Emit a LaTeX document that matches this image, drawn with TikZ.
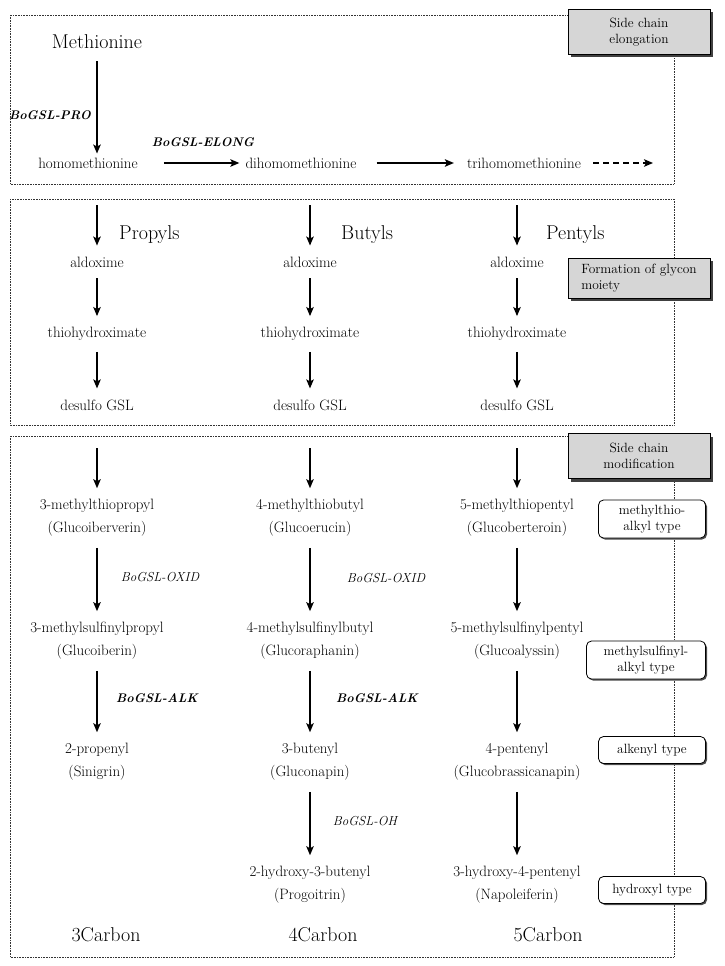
\documentclass[tikz,border=0pt]{standalone}
\usetikzlibrary{arrows.meta,shadows}

\begin{document}
\begin{tikzpicture}[x=1pt,y=-1pt,inner sep=0pt,
  every node/.style={font=\fontsize{15}{23}\selectfont},
  cpd/.style={align=center},
  big/.style={font=\fontsize{20}{22}\selectfont},
  gene/.style={font=\fontsize{13}{15}\selectfont\itshape},
  bgene/.style={font=\fontsize{12.5}{15}\selectfont\bfseries\itshape},
  stage/.style={draw,line width=0.9pt,fill=black!16,inner sep=3pt,minimum width=142pt,minimum height=45pt,align=center,font=\fontsize{13.4}{16}\selectfont,drop shadow={shadow xshift=3pt,shadow yshift=-3pt,fill=black!75,opacity=1}},
  kind/.style={draw,line width=0.8pt,rounded corners=5pt,fill=white,inner sep=3pt,minimum width=107pt,minimum height=38pt,align=center,font=\fontsize{13.4}{16}\selectfont,drop shadow={shadow xshift=1.5pt,shadow yshift=-1.5pt,fill=black!70,opacity=1}},
  panel/.style={densely dotted,line width=0.6pt,black!80},
  go/.style={-{Stealth[length=9pt,width=7.5pt,inset=2pt]},line width=1.5pt,shorten <=11pt,shorten >=11pt}]
\useasboundingbox (0,0) rectangle (724,966);
\draw[panel] (10,15) rectangle (674,184);
\draw[panel] (10,199) rectangle (674,425);
\draw[panel] (10,436) rectangle (674,957);
\node[stage] (elong) at (639,32) {Side chain\\elongation};
\node[stage,align=left,minimum height=40pt] (glyc) at (639,278) {Formation of glycon\\moiety};
\node[stage] (modif) at (639,456) {Side chain\\modification};
\node[kind] (kthio) at (652,519) {methylthio-\\alkyl type};
\node[kind,minimum width=119pt] (ksulf) at (646,660) {methylsulfinyl-\\alkyl type};
\node[kind,minimum height=27pt] (kalk) at (652,750) {alkenyl type};
\node[kind,minimum height=27pt] (koh) at (652,890) {hydroxyl type};

\node[big] (meth) at (97,42) {Methionine};
\node (hm) at (88,163) {homomethionine};
\node (dhm) at (301,163) {dihomomethionine};
\node (thm) at (524,163) {trihomomethionine};
\coordinate (more) at (653,163);
\node[bgene] (pro) at (50,115) {BoGSL-PRO};
\node[bgene] (elg) at (203,142) {BoGSL-ELONG};
\draw[go,shorten <=12pt,shorten >=4pt] (meth) -- (meth |- hm.north);
\draw[go,shorten <=26pt,shorten >=6pt] (hm) -- (dhm);
\draw[go,shorten <=20pt,shorten >=13pt] (dhm) -- (thm);
\draw[go,dash pattern=on 6pt off 4pt,shorten <=12pt,shorten >=0pt] (thm) -- (more);

\coordinate (ta) at (97,205); \coordinate (tb) at (310,205); \coordinate (tc) at (517,205);
\node[big,anchor=west] (prop) at (119,235) {Propyls};
\node[big,anchor=west] (buty) at (341,235) {Butyls};
\node[big,anchor=west] (pent) at (546,235) {Pentyls};
\node (alda) at (97,262) {aldoxime};
\node (aldb) at (310,262) {aldoxime};
\node (aldc) at (517,262) {aldoxime};
\node (thia) at (97,334) {thiohydroximate};
\node (thib) at (310,334) {thiohydroximate};
\node (thic) at (517,334) {thiohydroximate};
\node (desa) at (97,405) {desulfo GSL};
\node (desb) at (310,405) {desulfo GSL};
\node (desc) at (517,405) {desulfo GSL};
\draw[go,shorten <=0pt] (ta) -- (alda); \draw[go] (alda) -- (thia); \draw[go] (thia) -- (desa);
\draw[go,shorten <=0pt] (tb) -- (aldb); \draw[go] (aldb) -- (thib); \draw[go] (thib) -- (desb);
\draw[go,shorten <=0pt] (tc) -- (aldc); \draw[go] (aldc) -- (thic); \draw[go] (thic) -- (desc);

\coordinate (ua) at (97,448); \coordinate (ub) at (310,448); \coordinate (uc) at (517,448);
\node[cpd] (mtpr) at (97,518) {3-methylthiopropyl\\(Glucoiberverin)};
\node[cpd] (mtbu) at (310,518) {4-methylthiobutyl\\(Glucoerucin)};
\node[cpd] (mtpe) at (517,518) {5-methylthiopentyl\\(Glucoberteroin)};
\node[cpd] (mspr) at (97,641) {3-methylsulfinylpropyl\\(Glucoiberin)};
\node[cpd] (msbu) at (310,641) {4-methylsulfinylbutyl\\(Glucoraphanin)};
\node[cpd] (mspe) at (517,641) {5-methylsulfinylpentyl\\(Glucoalyssin)};
\node[cpd] (prop2) at (97,762) {2-propenyl\\(Sinigrin)};
\node[cpd] (but3) at (310,762) {3-butenyl\\(Gluconapin)};
\node[cpd] (pent4) at (517,762) {4-pentenyl\\(Glucobrassicanapin)};
\node[cpd] (hbut) at (310,885) {2-hydroxy-3-butenyl\\(Progoitrin)};
\node[cpd] (hpent) at (517,885) {3-hydroxy-4-pentenyl\\(Napoleiferin)};
\node[gene] (oxa) at (160,577) {BoGSL-OXID};
\node[gene] (oxb) at (386,578) {BoGSL-OXID};
\node[bgene] (alka) at (157,698) {BoGSL-ALK};
\node[bgene] (alkb) at (377,698) {BoGSL-ALK};
\node[gene] (ohb) at (365,821) {BoGSL-OH};
\node[big] (c3) at (106,935) {3Carbon};
\node[big] (c4) at (323,935) {4Carbon};
\node[big] (c5) at (548,935) {5Carbon};
\draw[go,shorten <=0pt] (ua) -- (mtpr); \draw[go] (mtpr) -- (mspr); \draw[go] (mspr) -- (prop2);
\draw[go,shorten <=0pt] (ub) -- (mtbu); \draw[go] (mtbu) -- (msbu); \draw[go] (msbu) -- (but3); \draw[go] (but3) -- (hbut);
\draw[go,shorten <=0pt] (uc) -- (mtpe); \draw[go] (mtpe) -- (mspe); \draw[go] (mspe) -- (pent4); \draw[go] (pent4) -- (hpent);
\end{tikzpicture}
\end{document}
